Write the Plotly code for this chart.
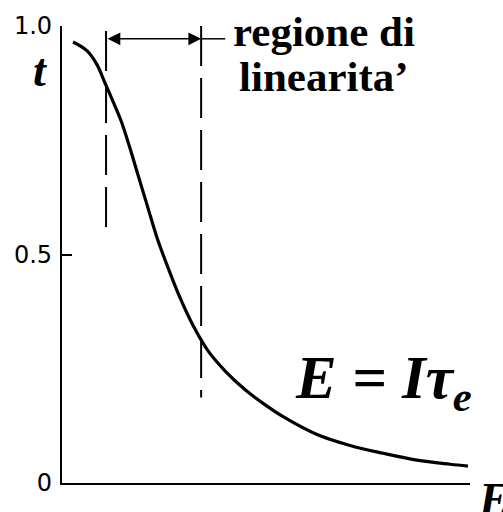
import plotly.graph_objects as go

# Transmission curve t(E)
E_values = [0.27, 0.61, 0.86, 1.05, 1.25, 1.45, 1.64, 1.86, 2.11, 2.35, 2.60, 2.89,
            3.21, 3.58, 4.00, 4.49, 4.98, 5.42, 6.25, 7.06, 7.87, 8.70, 9.51, 9.95]
t_values = [0.965, 0.946, 0.915, 0.876, 0.835, 0.792, 0.740, 0.675, 0.601, 0.531,
            0.471, 0.406, 0.345, 0.289, 0.245, 0.204, 0.171, 0.145, 0.106, 0.082,
            0.065, 0.050, 0.041, 0.037]

# Linear region bounds (E) and the extent of each marker line (t)
region_E = [1.08, 3.41]
region_top = [0.989, 1.0]
region_bottom = [0.544, 0.187]
arrow_t = 0.972
leader_end_E = 4.0

y_tickvals = [0, 0.5, 1.0]
y_ticktext = ["0", "0.5", "1.0"]

serif = "Liberation Serif, Times New Roman, serif"

fig = go.Figure()

fig.add_trace(go.Scatter(
    x=E_values, y=t_values, mode="lines",
    line=dict(color="black", width=3.2, shape="spline", smoothing=1.0),
    hoverinfo="skip", showlegend=False))

for xe, top, bot in zip(region_E, region_top, region_bottom):
    fig.add_trace(go.Scatter(
        x=[xe, xe], y=[top, bot], mode="lines",
        line=dict(color="black", width=2, dash="40px,12px"),
        hoverinfo="skip", showlegend=False))

# leader from the right bound toward the label
fig.add_trace(go.Scatter(
    x=[region_E[1], leader_end_E], y=[arrow_t, arrow_t], mode="lines",
    line=dict(color="black", width=1.5),
    hoverinfo="skip", showlegend=False))

# double-headed arrow spanning the linear region
fig.add_annotation(
    x=region_E[1], y=arrow_t, ax=region_E[0], ay=arrow_t,
    xref="x", yref="y", axref="x", ayref="y",
    text="", showarrow=True, arrowhead=2, startarrowhead=2,
    arrowside="end+start", arrowsize=1.7, startarrowsize=1.7,
    arrowwidth=1.5, arrowcolor="black")

label_font = dict(family=serif, size=43, color="black")
fig.add_annotation(x=6.42, y=(483 - 28) / 461, xref="x", yref="y",
                   text="<b>regione di</b>", showarrow=False, font=label_font,
                   xanchor="center", yanchor="middle")
fig.add_annotation(x=6.42, y=(483 - 73) / 461, xref="x", yref="y",
                   text="<b>linearita’</b>", showarrow=False, font=label_font,
                   xanchor="center", yanchor="middle")

fig.add_annotation(x=(383 - 62) / 40.8, y=(483 - 381) / 461, xref="x", yref="y",
                   text="<b><i>E = Iτ<sub>e</sub></i></b>", showarrow=False,
                   font=dict(family=serif, size=61, color="black"),
                   xanchor="center", yanchor="middle")

# axis titles
fig.add_annotation(x=(40 - 62) / 408, y=(483 - 68) / 460, xref="paper", yref="paper",
                   text="<b><i>t</i></b>", showarrow=False,
                   font=dict(family=serif, size=46, color="black"),
                   xanchor="center", yanchor="middle")
fig.add_annotation(x=(476 - 62) / 408, y=(483 - 500) / 460, xref="paper", yref="paper",
                   text="<b><i>E</i></b>", showarrow=False,
                   font=dict(family=serif, size=46, color="black"),
                   xanchor="left", yanchor="middle")

fig.update_xaxes(range=[0, 10], showgrid=False, zeroline=False, showticklabels=False,
                 ticks="", showline=True, linecolor="black", linewidth=2.2)
fig.update_yaxes(range=[0, 1.0], showgrid=False, zeroline=False,
                 tickvals=y_tickvals, ticktext=y_ticktext,
                 ticks="inside", ticklen=10, tickwidth=2, tickcolor="black",
                 ticklabelstandoff=3,
                 tickfont=dict(family="DejaVu Sans, Verdana, sans-serif", size=24, color="black"),
                 showline=True, linecolor="black", linewidth=2.2)

fig.update_layout(
    width=503, height=512,
    margin=dict(l=62, r=33, t=23, b=29),
    paper_bgcolor="white", plot_bgcolor="white",
    showlegend=False)

fig.write_html("out.html")
